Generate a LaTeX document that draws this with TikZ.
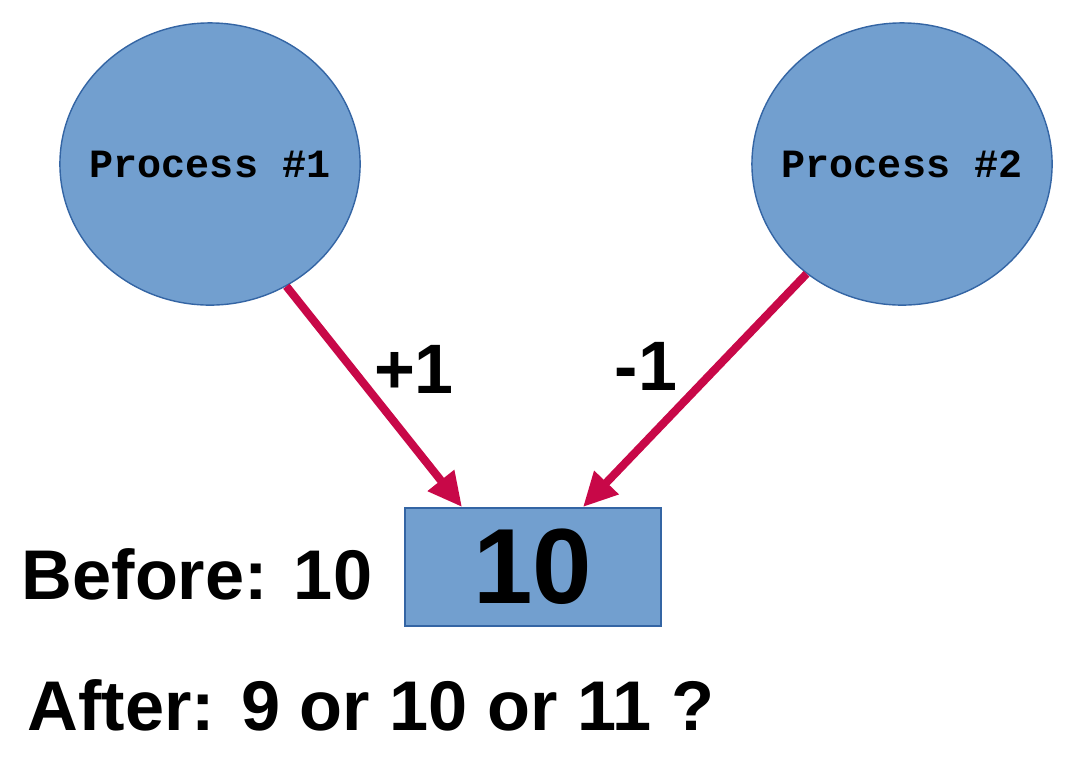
\documentclass[tikz,border=0pt]{standalone}
\usepackage{fontspec}
\setmainfont{Liberation Sans}
\newfontfamily\monofont{Liberation Mono}
\usetikzlibrary{arrows.meta,shapes.geometric}
\definecolor{procblue}{HTML}{729FCF}
\definecolor{procedge}{HTML}{3465A4}
\definecolor{flowred}{RGB}{200,8,72}
\begin{document}
\begin{tikzpicture}[x=0.01cm,y=-0.01cm,
    proc node/.style={ellipse,draw=procedge,fill=procblue,line width=0.4pt,minimum width=3cm,minimum height=2.82cm,inner sep=0pt,
        label={[font=\monofont\bfseries\fontsize{11.4}{13}\selectfont]center:#1}},
    cell node/.style={rectangle,draw=procedge,fill=procblue,line width=0.4pt,minimum width=2.56cm,minimum height=1.18cm,inner sep=0pt,font=\bfseries\fontsize{30.4}{34}\selectfont},
    flow/.style={draw=flowred,line width=2.3pt,-{Triangle[length=0.34cm,width=0.32cm]}},
    big text/.style={inner sep=0pt,font=\bfseries\fontsize{20}{24}\selectfont}]
                \useasboundingbox (0,0) rectangle (1080,763);
                \node[proc node={Process \#1}] at (210, 164) (p1) {};
                \node[proc node={Process \#2}] at (902, 164) (p2) {};
                \node[cell node] at (533, 567) (cnt) {10};
                \coordinate (t1) at (462, 507);
                \coordinate (t2) at (583, 507);

                \draw[flow] (p1.-58.6) -- (t1);
                \draw[flow] (p2.-131) -- (t2);

                \node[inner sep=0pt,anchor=base,font=\bfseries\fontsize{19.9}{23}\selectfont] at (414, 393) (inc) {+1};
                \node[inner sep=0pt,anchor=base,font=\bfseries\fontsize{19.9}{23}\selectfont] at (646, 390) (dec) {-1};

                \node[big text,anchor=base west] at (21, 599) (before) {Before: 10};
                \node[big text,anchor=base west] at (27, 730) (after) {After: 9 or 10 or 11 ?};
            \end{tikzpicture}
\end{document}
